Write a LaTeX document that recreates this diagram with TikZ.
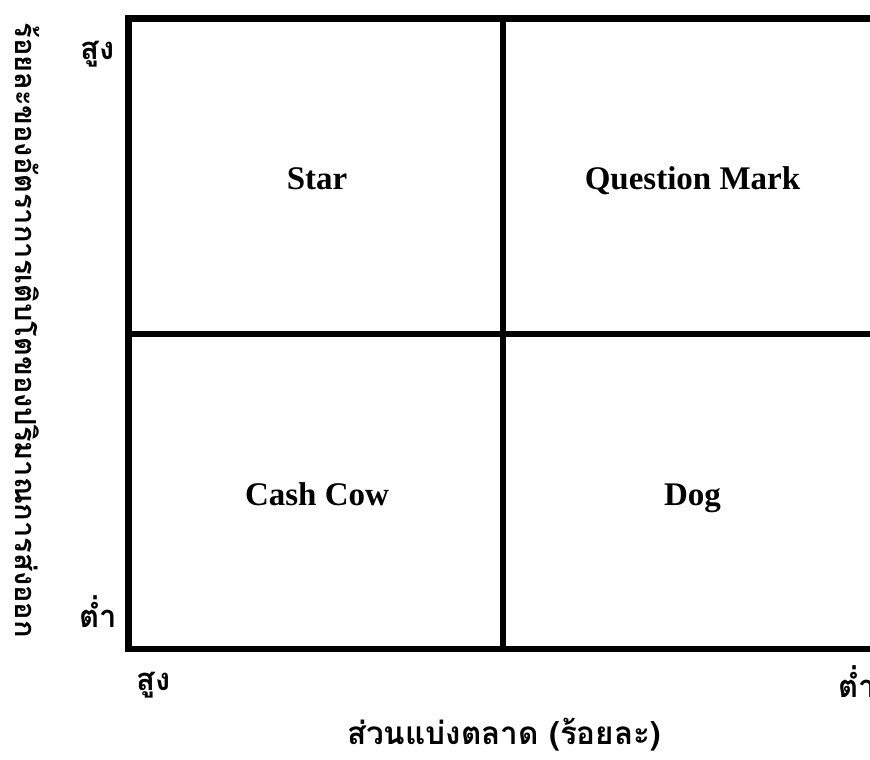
\documentclass[tikz,border=0pt]{standalone}
\usepackage{fontspec}
\setmainfont{Liberation Serif}
\newfontfamily\thaifont[Script=Thai]{Loma}
\begin{document}
\begin{tikzpicture}[x=1pt,y=-1pt,
  grid/.style={line width=6.5pt,black},
  quad/.style={font=\fontsize{33}{38}\selectfont\bfseries,anchor=base},
  thai/.style={font=\thaifont\fontsize{31}{36}\selectfont\bfseries,inner sep=0pt}]
\useasboundingbox (0,0) rectangle (870,760);
\clip (0,0) rectangle (870,760);
% grid
\draw[grid] (900,18.5) -- (128.5,18.5) -- (128.5,649) -- (900,649);
\draw[grid] (128.5,334) -- (900,334);
\draw[grid] (503,18.5) -- (503,649);
% quadrant labels
\node[quad] (star) at (317,189) {Star};
\node[quad] (qm) at (692.5,189) {Question Mark};
\node[quad] (cow) at (317,505) {Cash Cow};
\node[quad] (dog) at (692.5,505) {Dog};
% axis ticks
\node[thai] (yhigh) at (98,54) {สูง};
\node[thai] (ylow) at (98,612) {ต่ำ};
\node[thai] (xhigh) at (154,685) {สูง};
\node[thai,anchor=west] (xlow) at (838,682) {ต่ำ};
% axis titles
\node[thai,font=\thaifont\fontsize{31.5}{36}\selectfont\bfseries] (xtitle) at (504,735) {ส่วนแบ่งตลาด (ร้อยละ)};
\node[thai,rotate=-90,font=\thaifont\fontsize{29}{34}\selectfont\bfseries] (ytitle) at (28,330) {ร้อยละของอัตราการเติบโตของปริมาณการส่งออก};
\end{tikzpicture}
\end{document}
